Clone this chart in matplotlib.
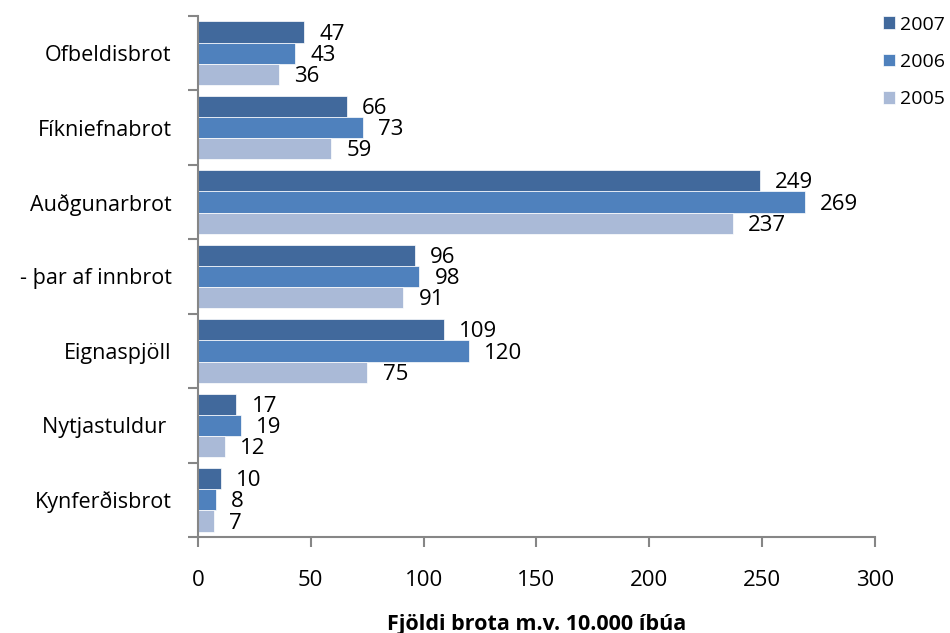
import numpy as np
import matplotlib.pyplot as plt

plt.rcParams['font.family'] = ['Open Sans', 'DejaVu Sans']

# gögn lesin af myndinni
flokkar = ['Ofbeldisbrot', 'Fíkniefnabrot', 'Auðgunarbrot', '- þar af innbrot',
           'Eignaspjöll', 'Nytjastuldur ', 'Kynferðisbrot']
ar = ['2007', '2006', '2005']
gildi_2007 = [47, 66, 249, 96, 109, 17, 10]
gildi_2006 = [43, 73, 269, 98, 120, 19, 8]
gildi_2005 = [36, 59, 237, 91, 75, 12, 7]
litir = ['#41699C', '#4F81BD', '#AABAD7']
xtikk = [0, 50, 100, 150, 200, 250, 300]

fig = plt.figure(figsize=(9.5, 6.33), dpi=100)
ax = fig.add_axes([0.2084, 0.1517, 0.7126, 0.823])

n = len(flokkar)
y = np.arange(n)
h = 0.285
for i, (gildi, lit, lab) in enumerate(zip([gildi_2007, gildi_2006, gildi_2005], litir, ar)):
    pos = y - h + i * h
    bars = ax.barh(pos, gildi, height=h, color=lit, label=lab, edgecolor='white', linewidth=0.5)
    for b, v in zip(bars, gildi):
        ax.annotate(str(v), (b.get_width(), b.get_y() + b.get_height() / 2),
                    xytext=(11, -1.5), textcoords='offset points', va='center', ha='left', fontsize=16)

ax.set_ylim(n - 0.5, -0.5)
ax.set_xlim(0, 300)
ax.set_xticks(xtikk)
ax.set_yticks(y)
ax.set_yticklabels(flokkar, fontsize=15.5)
ax.set_yticks(np.arange(-0.5, n, 1), minor=True)
ax.tick_params(axis='y', which='major', length=0, pad=19)
ax.tick_params(axis='y', which='minor', length=7, color='#868686', width=1.5)
ax.tick_params(axis='x', length=7, color='#868686', width=1.5, pad=17, labelsize=16)
for s in ['top', 'right']:
    ax.spines[s].set_visible(False)
for s in ['left', 'bottom']:
    ax.spines[s].set_color('#868686')
    ax.spines[s].set_linewidth(1.5)

ax.set_xlabel('Fjöldi brota m.v. 10.000 íbúa', fontsize=15.5, fontweight='bold', labelpad=16)

h_, l_ = ax.get_legend_handles_labels()
fig.legend(h_, l_, loc='upper left', bbox_to_anchor=(0.915, 0.997), frameon=False,
           fontsize=14, handlelength=0.6, handleheight=0.6, handletextpad=0.3,
           labelspacing=1.0, borderpad=0.2)

fig.savefig('out.png', dpi=100)
